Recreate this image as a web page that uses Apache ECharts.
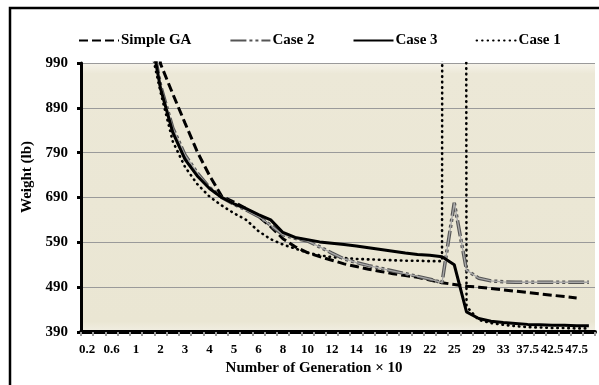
<!DOCTYPE html>
<html>
<head>
<meta charset="utf-8">
<script src="https://cdn.jsdelivr.net/npm/echarts@6/dist/echarts.min.js"></script>
<style>
html,body{margin:0;padding:0;background:#fff;}
#chart{width:599px;height:385px;}
</style>
</head>
<body>
<div id="chart"></div>
<script>
// Categories (number of generation x 10); every second one is labelled
const categories = ['0.2','0.4','0.6','0.8','1','1.5','2','2.5','3','3.5','4','4.5','5','5.5','6','7','8','9','10','11','12','13','14','15','16','17.5','19','20.5','22','23.5','25','27','29','31','33','35','37.5','40','42.5','45','47.5','50'];

const simpleGA = [3400,2800,2300,1900,1550,1200,988,921,856,792,739,693,680,665,648,625,598,580,567,558,550,542,536,530,525,520,516,512,506,500,496,492,490,487,484,481,478,475,472,469,466,null];
const case2 = [3000,2500,2000,1600,1300,1090,940,845,785,745,712,690,675,662,648,628,607,599,593,580,566,553,545,538,532,526,520,514,508,500,678,528,510,504,502,501,501,501,501,501,501,501];
const case3 = [3000,2500,2000,1600,1300,1083,933,835,775,738,710,690,676,665,652,640,612,601,596,591,588,585,582,578,574,570,566,563,561,558,540,435,420,414,411,409,407,406,405,405,404,404];
const case1 = [3000,2500,2000,1600,1300,1050,925,815,758,720,692,672,655,640,615,597,585,576,567,561,557,555,553,552,551,550,549,549,548,548,30000,447,417,410,406,403,401,400,399,399,398,398];

const yMin = 390, yMax = 990, yStep = 100;
const xTitle = 'Number of Generation × 10';
const yTitle = 'Weight (lb)';

const font = 'Liberation Serif';
const chart = echarts.init(document.getElementById('chart'), null, {renderer:'canvas'});

chart.setOption({
  animation: false,
  backgroundColor: '#ffffff',
  graphic: [
    {type:'rect', shape:{x:10, y:8, width:700, height:500}, style:{fill:'none', stroke:'#000', lineWidth:2.5}, z:-10},
    {type:'text', x:314, y:368, style:{text:xTitle, font:'bold 15px "Liberation Serif"', fill:'#000', align:'center', verticalAlign:'middle'}},
    {type:'text', x:27, y:177, rotation:Math.PI/2, style:{text:yTitle, font:'bold 15px "Liberation Serif"', fill:'#000', align:'center', verticalAlign:'middle'}}
  ],
  legend: {
    data: ['Simple GA','Case 2','Case 3','Case 1'],
    left: 73, top: 28,
    itemWidth: 40, itemHeight: 12, itemGap: 38,
    itemStyle: {opacity: 0},
    textStyle: {fontFamily: font, fontWeight:'bold', fontSize:15, color:'#000', padding:[0,0,0,-3]}
  },
  grid: {left:81, right:4, top:63, bottom:53, show:true, borderWidth:0,
    backgroundColor: {type:'linear', x:0, y:0, x2:0, y2:1, colorStops:[
      {offset:0, color:'#F6F3EA'}, {offset:0.04, color:'#ECE8D7'}, {offset:0.96, color:'#EAE6D3'}, {offset:1, color:'#F1EEE2'}]}},
  xAxis: {
    type:'category', data:categories, boundaryGap:true,
    axisLine:{show:true, lineStyle:{color:'#000', width:4}},
    axisTick:{show:true, interval:0, length:4, lineStyle:{color:'#9a9a9a', width:2}},
    axisLabel:{interval:1, margin:11, fontFamily:font, fontWeight:'bold', fontSize:13, color:'#000'},
    splitLine:{show:false}
  },
  yAxis: {
    type:'value', min:yMin, max:yMax, interval:yStep,
    axisLine:{show:true, lineStyle:{color:'#000', width:3}},
    axisTick:{show:true, length:4, lineStyle:{color:'#000', width:3}},
    axisLabel:{margin:13, fontFamily:font, fontWeight:'bold', fontSize:15, color:'#000'},
    splitLine:{show:true, lineStyle:{color:'#9a9a9a', width:1.2}}
  },
  series: [
    {name:'Simple GA', type:'line', data:simpleGA, symbol:'none', clip:true, z:3,
     lineStyle:{color:'#000', width:3, type:[9,4]}, itemStyle:{color:'#000'}},
    {name:'Case 2', type:'line', data:case2, symbol:'none', clip:true, z:4,
     lineStyle:{color:'#555', width:3.5, type:[16,3,3,3,3,3]}, itemStyle:{color:'#555'}},
    {name:'Case 2 core', type:'line', data:case2, symbol:'none', clip:true, z:5, silent:true,
     lineStyle:{color:'#a8a8a8', width:1.3}, itemStyle:{color:'#a8a8a8'}},
    {name:'Case 3', type:'line', data:case3, symbol:'none', clip:true, z:6,
     lineStyle:{color:'#000', width:3}, itemStyle:{color:'#000'}},
    {name:'Case 1', type:'line', data:case1, symbol:'none', clip:true, z:2,
     lineStyle:{color:'#000', width:2.6, type:[0.5,5], cap:'round'}, itemStyle:{color:'#000'}}
  ]
});
</script>
</body>
</html>
